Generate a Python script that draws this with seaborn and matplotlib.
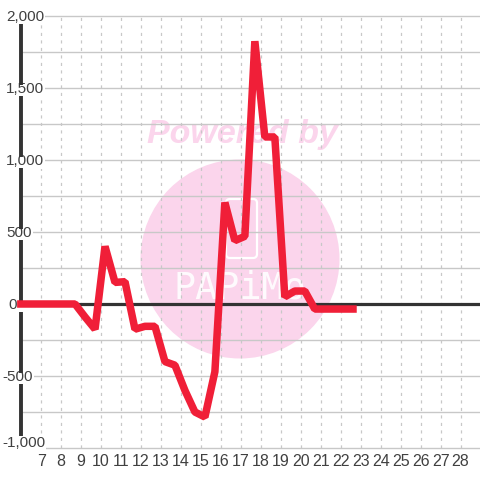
import matplotlib
matplotlib.use("Agg")
import matplotlib.pyplot as plt
import pandas as pd
import seaborn as sns
from matplotlib.patches import Circle, FancyBboxPatch
from matplotlib.transforms import blended_transform_factory

x_values = [5.8, 6.2, 6.7, 7.2, 7.7, 8.2, 8.7, 9.2, 9.7, 10.2, 10.7, 11.2, 11.7, 12.2, 12.7,
            13.2, 13.7, 14.2, 14.7, 15.2, 15.7, 16.2, 16.7, 17.2, 17.7, 18.2, 18.7, 19.2,
            19.7, 20.2, 20.7, 21.2, 21.7, 22.2, 22.8]
y_values = [0, 0, 0, 0, 0, 0, 0, -90, -175, 400, 150, 155, -175, -155, -155,
            -400, -425, -600, -750, -785, -470, 705, 440, 470, 1825, 1160, 1160, 50,
            90, 90, -35, -35, -35, -35, -35]
x_ticks = list(range(7, 29))
y_major = [-1000, -500, 0, 500, 1000, 1500, 2000]
y_minor = [-750, -250, 250, 750, 1250, 1750]

W, H = 480, 480
df = pd.DataFrame({"x": x_values, "y": y_values})

sns.set_theme(style="white")
plt.rcParams["font.family"] = ["Liberation Sans", "DejaVu Sans"]

fig = plt.figure(figsize=(W / 100, H / 100), dpi=100)
ax = fig.add_axes([20.5 / W, 1 - 448 / H, (W - 20.5) / W, 432 / H])
ax.set_xlim(5.97, 28.97)
ax.set_ylim(-1000, 2000)

# watermark sits in pixel space, behind the grid
bg = fig.add_axes([0, 0, 1, 1], zorder=-1)
bg.set_xlim(0, W)
bg.set_ylim(H, 0)
bg.axis("off")
ax.patch.set_alpha(0)
pink = "#FBD5EC"
bg.add_patch(Circle((240, 259), 99.5, color=pink, lw=0))
bg.add_patch(FancyBboxPatch((226, 199), 31, 59, boxstyle="round,pad=0,rounding_size=4",
                            fc="none", ec="white", lw=1.6))
bg.text(242, 134, "Powered by", color=pink, fontsize=24.5, fontweight="bold",
        fontstyle="italic", ha="center", va="center")
bg.text(240, 288, "PAPiMo", color="white", fontsize=26.5, ha="center", va="center",
        fontfamily="DejaVu Sans Mono", alpha=0.9)

for v in x_ticks:
    ax.axvline(v, color="#C8C8C8", lw=0.9, ls=(0, (2.5, 3.5)), zorder=1)
for v in y_major + y_minor:
    ax.axhline(v, color="#C8C8C8", lw=1.0, zorder=1, clip_on=False)
ax.axhline(0, color="#333333", lw=2.3, zorder=2)

sns.despine(ax=ax, left=True, right=True, top=True, bottom=True)

# axis line is broken where the tick labels cross it
spine_tr = ax.get_yaxis_transform()
spine_top = 1944
for v in [1500, 1000, 500, 0, -500]:
    ax.plot([0, 0], [spine_top, v + 21], transform=spine_tr, color="#333333", lw=2.8,
            zorder=4.5, clip_on=False, solid_capstyle="butt")
    spine_top = v - 56
ax.plot([0, 0], [spine_top, -917], transform=spine_tr, color="#333333", lw=2.8,
        zorder=4.5, clip_on=False, solid_capstyle="butt")

sns.lineplot(data=df, x="x", y="y", ax=ax, color="#F01F38", lw=5.4, zorder=5,
             clip_on=False, errorbar=None, estimator=None, sort=False)
ax.lines[-1].set_solid_joinstyle("bevel")
ax.lines[-1].set_solid_capstyle("butt")

ax.set_xlabel("")
ax.set_ylabel("")
ax.set_xticks(x_ticks)
ax.set_yticks(y_major)
ax.set_yticklabels([])
ax.tick_params(axis="x", length=0, pad=4, labelsize=11.5, labelcolor="#404040")
ax.tick_params(axis="y", length=0)

label_tr = blended_transform_factory(fig.transFigure, ax.transData)
for v in y_major:
    left = 2 if v < 0 else (8 if v == 0 else 6)
    pos = -960 if v == -1000 else v
    ax.text(left / W, pos - 8, f"{v:,}", transform=label_tr, fontsize=11,
            color="#404040", ha="left", va="center", zorder=4, clip_on=False,
            bbox=dict(fc="white", ec="none", pad=0.8))

fig.savefig("out.png", dpi=100)
